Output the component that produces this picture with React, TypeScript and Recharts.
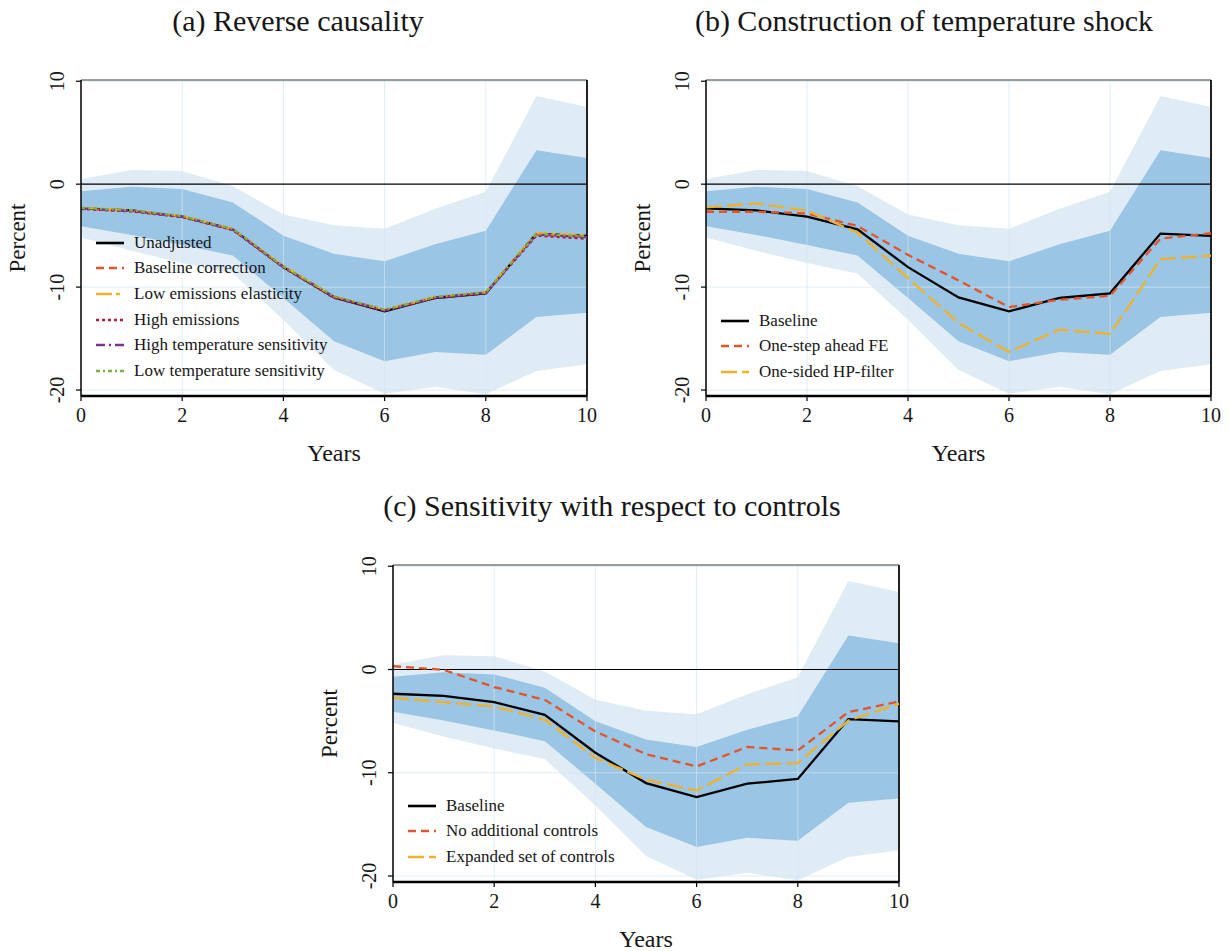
import { useMemo } from "react";
import { Area, ComposedChart, Line, ReferenceLine, XAxis, YAxis } from "recharts";

const FONT = '"Liberation Serif", "Times New Roman", serif';
const INK = "#161616";
const LIGHT_BAND = "#dfecf6";
const DARK_BAND = "#9ac5e4";

const YEARS = [0, 1, 2, 3, 4, 5, 6, 7, 8, 9, 10];
const X_TICKS = [0, 2, 4, 6, 8, 10];
const Y_TICKS = [-20, -10, 0, 10];
const Y_DOMAIN: [number, number] = [-20.58, 10.12];

// confidence bands around the baseline estimate
const BAND90_LO = [-5.19, -6.48, -7.65, -8.68, -13.16, -18.06, -20.35, -19.68, -20.4, -18.16, -17.5];
const BAND90_HI = [0.5, 1.38, 1.28, -0.2, -2.94, -4.0, -4.33, -2.4, -0.74, 8.57, 7.5];
const BAND68_LO = [-4.1, -4.94, -5.9, -6.94, -11.06, -15.26, -17.2, -16.3, -16.58, -12.9, -12.5];
const BAND68_HI = [-0.7, -0.26, -0.48, -1.77, -5.0, -6.77, -7.5, -5.84, -4.52, 3.3, 2.55];

const BASELINE = [-2.35, -2.55, -3.16, -4.39, -8.06, -11.0, -12.35, -11.06, -10.6, -4.8, -5.02];

// (a) reverse causality
const BASELINE_CORRECTION = [-2.4, -2.6, -3.15, -4.4, -8.0, -10.95, -12.25, -11.0, -10.55, -4.85, -5.1];
const LOW_EMISSIONS_ELASTICITY = [-2.3, -2.55, -3.1, -4.35, -7.95, -10.9, -12.2, -10.95, -10.5, -4.75, -4.95];
const HIGH_EMISSIONS = [-2.4, -2.65, -3.2, -4.45, -8.1, -11.05, -12.3, -11.05, -10.6, -5.0, -5.3];
const HIGH_TEMP_SENSITIVITY = [-2.35, -2.6, -3.15, -4.4, -8.05, -10.95, -12.25, -11.0, -10.55, -4.9, -5.15];
const LOW_TEMP_SENSITIVITY = [-2.3, -2.55, -3.1, -4.35, -8.0, -10.9, -12.2, -10.95, -10.5, -4.85, -5.05];

// (b) construction of temperature shock
const ONE_STEP_FE = [-2.68, -2.68, -2.84, -4.06, -6.87, -9.35, -11.94, -11.23, -10.84, -5.29, -4.77];
const ONE_SIDED_HP = [-2.26, -1.87, -2.58, -4.71, -9.13, -13.48, -16.29, -14.13, -14.55, -7.29, -6.94];

// (c) sensitivity with respect to controls
const NO_CONTROLS = [0.32, -0.03, -1.7, -2.94, -6.0, -8.2, -9.39, -7.5, -7.84, -4.13, -3.1];
const EXPANDED_CONTROLS = [-2.74, -3.16, -3.58, -4.87, -8.55, -10.68, -11.71, -9.19, -9.06, -4.94, -3.32];

type Series = {
  key: string;
  name: string;
  values: number[];
  color: string;
  dash?: string;
};

const RED = "#e2542a";
const ORANGE = "#f0b12c";

const SERIES_A: Series[] = [
  { key: "unadj", name: "Unadjusted", values: BASELINE, color: "#000000" },
  { key: "corr", name: "Baseline correction", values: BASELINE_CORRECTION, color: RED, dash: "8 5" },
  { key: "lowEl", name: "Low emissions elasticity", values: LOW_EMISSIONS_ELASTICITY, color: ORANGE, dash: "16 4 4 4" },
  { key: "highEm", name: "High emissions", values: HIGH_EMISSIONS, color: "#b3173a", dash: "3 3" },
  { key: "highTs", name: "High temperature sensitivity", values: HIGH_TEMP_SENSITIVITY, color: "#7d3192", dash: "9 4 2 4" },
  { key: "lowTs", name: "Low temperature sensitivity", values: LOW_TEMP_SENSITIVITY, color: "#78b243", dash: "4 3 2 3" },
];

const SERIES_B: Series[] = [
  { key: "base", name: "Baseline", values: BASELINE, color: "#000000" },
  { key: "fe", name: "One-step ahead FE", values: ONE_STEP_FE, color: RED, dash: "8 5" },
  { key: "hp", name: "One-sided HP-filter", values: ONE_SIDED_HP, color: ORANGE, dash: "16 5" },
];

const SERIES_C: Series[] = [
  { key: "base", name: "Baseline", values: BASELINE, color: "#000000" },
  { key: "noc", name: "No additional controls", values: NO_CONTROLS, color: RED, dash: "8 5" },
  { key: "exp", name: "Expanded set of controls", values: EXPANDED_CONTROLS, color: ORANGE, dash: "16 5" },
];

const M_LEFT = 81;
const M_TOP = 80;

function XTick(props: any) {
  return (
    <text x={props.x} y={props.y + 19} textAnchor="middle" fontSize={20} fontFamily={FONT} fill={INK}>
      {props.payload.value}
    </text>
  );
}

function YTick(props: any) {
  const x = props.x - 10;
  return (
    <text
      x={x}
      y={props.y}
      transform={`rotate(-90 ${x} ${props.y})`}
      textAnchor="middle"
      fontSize={20}
      fontFamily={FONT}
      fill={INK}
    >
      {props.payload.value}
    </text>
  );
}

interface PanelProps {
  left: number;
  top: number;
  plotW: number;
  plotH: number;
  series: Series[];
  legendTop: number;
}

function Panel({ left, top, plotW, plotH, series, legendTop }: PanelProps) {
  const width = M_LEFT + plotW + 20;
  const height = M_TOP + plotH + 90;

  const rows = useMemo(
    () =>
      YEARS.map((year, i) => {
        const row: Record<string, any> = {
          year,
          outer: [BAND90_LO[i], BAND90_HI[i]],
          inner: [BAND68_LO[i], BAND68_HI[i]],
        };
        series.forEach((s) => (row[s.key] = s.values[i]));
        return row;
      }),
    [series]
  );

  const axisY = M_TOP + plotH;

  return (
    <div style={{ position: "absolute", left: left - M_LEFT, top: top - M_TOP, width, height }}>
      <ComposedChart
        width={width}
        height={height}
        data={rows}
        margin={{ top: M_TOP, right: 20, bottom: 60, left: 21 }}
      >
        <XAxis
          type="number"
          dataKey="year"
          domain={[0, 10]}
          ticks={X_TICKS}
          interval={0}
          height={30}
          tickSize={5}
          tickMargin={2}
          axisLine={{ stroke: "#000", strokeWidth: 2.5 }}
          tickLine={{ stroke: "#000", strokeWidth: 1.2 }}
          tick={XTick}
          label={() => (
            <text x={M_LEFT + plotW / 2} y={axisY + 65} textAnchor="middle" fontSize={24} fontFamily={FONT} fill={INK}>
              Years
            </text>
          )}
        />
        <YAxis
          type="number"
          domain={Y_DOMAIN}
          ticks={Y_TICKS}
          allowDataOverflow
          interval={0}
          width={60}
          tickSize={5}
          tickMargin={2}
          axisLine={{ stroke: "#000", strokeWidth: 1.5 }}
          tickLine={{ stroke: "#000", strokeWidth: 1.2 }}
          tick={YTick}
          label={() => (
            <text
              x={25}
              y={M_TOP + plotH / 2}
              transform={`rotate(-90 25 ${M_TOP + plotH / 2})`}
              textAnchor="middle"
              fontSize={23}
              fontFamily={FONT}
              fill={INK}
            >
              Percent
            </text>
          )}
        />
        <Area
          dataKey="outer"
          type="linear"
          stroke="none"
          fill={LIGHT_BAND}
          fillOpacity={1}
          activeDot={false}
          isAnimationActive={false}
        />
        <Area
          dataKey="inner"
          type="linear"
          stroke="none"
          fill={DARK_BAND}
          fillOpacity={1}
          activeDot={false}
          isAnimationActive={false}
        />
        {[2, 4, 6, 8].map((x) => (
          <ReferenceLine key={`gx${x}`} x={x} stroke="#d3e5ee" strokeOpacity={0.7} />
        ))}
        {[-20, -10, 10].map((y) => (
          <ReferenceLine key={`gy${y}`} y={y} stroke="#d3e5ee" strokeOpacity={0.7} />
        ))}
        <ReferenceLine y={0} stroke="#000" strokeWidth={1.2} />
        <ReferenceLine y={Y_DOMAIN[1]} stroke="#3a3a3a" strokeWidth={1} />
        <ReferenceLine x={10} stroke="#222" strokeWidth={2} />
        {series.map((s) => (
          <Line
            key={s.key}
            dataKey={s.key}
            name={s.name}
            type="linear"
            stroke={s.color}
            strokeWidth={2.3}
            strokeDasharray={s.dash}
            dot={false}
            activeDot={false}
            isAnimationActive={false}
          />
        ))}
      </ComposedChart>
      <div
        style={{
          position: "absolute",
          left: 96,
          top: legendTop - (top - M_TOP),
          fontFamily: FONT,
          fontSize: 17,
          color: INK,
        }}
      >
        {series.map((s) => (
          <div key={s.key} style={{ display: "flex", alignItems: "center", height: 25.6, whiteSpace: "nowrap" }}>
            <svg width={28} height={8} style={{ marginRight: 10 }}>
              <line x1={0} y1={4} x2={28} y2={4} stroke={s.color} strokeWidth={2.6} strokeDasharray={s.dash} />
            </svg>
            <span>{s.name}</span>
          </div>
        ))}
      </div>
    </div>
  );
}

const titleStyle = (cx: number, top: number): React.CSSProperties => ({
  position: "absolute",
  left: cx - 300,
  top,
  width: 600,
  textAlign: "center",
  fontFamily: FONT,
  fontSize: 30,
  lineHeight: "30px",
  color: INK,
  whiteSpace: "nowrap",
});

export default function App() {
  return (
    <div style={{ position: "absolute", left: 0, top: 0, width: 1229, height: 951, background: "#fff", overflow: "hidden" }}>
      <div style={titleStyle(298, 6)}>(a) Reverse causality</div>
      <div style={titleStyle(924, 6)}>(b) Construction of temperature shock</div>
      <div style={titleStyle(612, 491)}>(c) Sensitivity with respect to controls</div>
      <Panel left={81} top={80} plotW={506} plotH={316} series={SERIES_A} legendTop={230} />
      <Panel left={706} top={80} plotW={505} plotH={316} series={SERIES_B} legendTop={308} />
      <Panel left={393} top={565} plotW={506} plotH={317} series={SERIES_C} legendTop={793} />
    </div>
  );
}
